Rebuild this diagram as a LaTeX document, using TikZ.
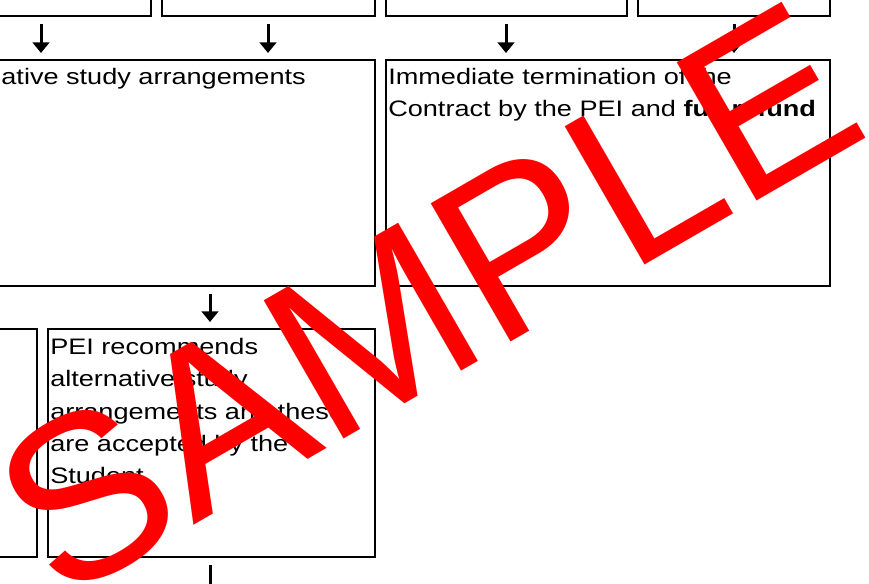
\documentclass[tikz,border=0pt]{standalone}
\usepackage{fontspec}
\setmainfont{Liberation Sans}
\newfontfamily\boxfont[FakeStretch=1.21]{Liberation Sans}
\usetikzlibrary{arrows.meta}
\begin{document}
\begin{tikzpicture}[x=0.75pt, y=-0.75pt,
        box/.style={draw, line width=1.5pt, inner sep=0pt, anchor=north west},
        txt/.style={inner sep=0pt, align=left, font=\boxfont\fontsize{16.8}{24.2}\selectfont},
        flow/.style={line width=2.25pt, -{Triangle[width=12.5pt, length=8pt]},
            shorten <=5pt, shorten >=4.5pt}]
    \useasboundingbox (0,0) rectangle (869,584);
    \clip (0,0) rectangle (869,584);
    \node[box, minimum width=127.5pt, minimum height=41.25pt] (topA) at (-20,-40) {};
    \node[box, minimum width=159.75pt, minimum height=41.25pt] (topB) at (161,-40) {};
    \node[box, minimum width=180.75pt, minimum height=41.25pt] (topC) at (385,-40) {};
    \node[box, minimum width=144pt, minimum height=41.25pt] (topD) at (637,-40) {};
    \node[box, minimum width=295.5pt, minimum height=169.5pt] (midE) at (-20,59) {};
    \node[box, minimum width=333pt, minimum height=169.5pt] (midF) at (385,59) {};
    \node[box, minimum width=42pt, minimum height=171pt] (botG) at (-20,328) {};
    \node[box, minimum width=245.25pt, minimum height=171pt] (botH) at (47,328) {};
    \node[txt, anchor=north east] (textE) at ([shift={(-70,9)}]midE.north east)
        {ative study arrangements};
    \node[txt, anchor=north west] (textF) at ([shift={(3,9)}]midF.north west)
        {Immediate termination of the\\Contract by the PEI and \textbf{full refund}};
    \node[txt, anchor=north west] (textH) at ([shift={(3,10)}]botH.north west)
        {PEI recommends\\alternative study\\arrangements and these\\are accepted by the\\Student};
    \coordinate (c1) at (41,0);
    \coordinate (c2) at (268,0);
    \coordinate (c3) at (506,0);
    \coordinate (c4) at (734,0);
    \coordinate (c5) at (210,0);
    \coordinate (out) at (210,610);
    \draw[flow] (topA.south -| c1) -- (midE.north -| c1);
    \draw[flow] (topB.south -| c2) -- (midE.north -| c2);
    \draw[flow] (topC.south -| c3) -- (midF.north -| c3);
    \draw[flow] (topD.south -| c4) -- (midF.north -| c4);
    \draw[flow] (midE.south -| c5) -- (botH.north -| c5);
    \draw[flow] (botH.south -| c5) -- (out);
    \node[anchor=base, rotate=30, inner sep=0pt, text=red,
        font=\fontsize{174}{174}\selectfont] (wmark) at (467,368) {SAMPLE};
\end{tikzpicture}
\end{document}
